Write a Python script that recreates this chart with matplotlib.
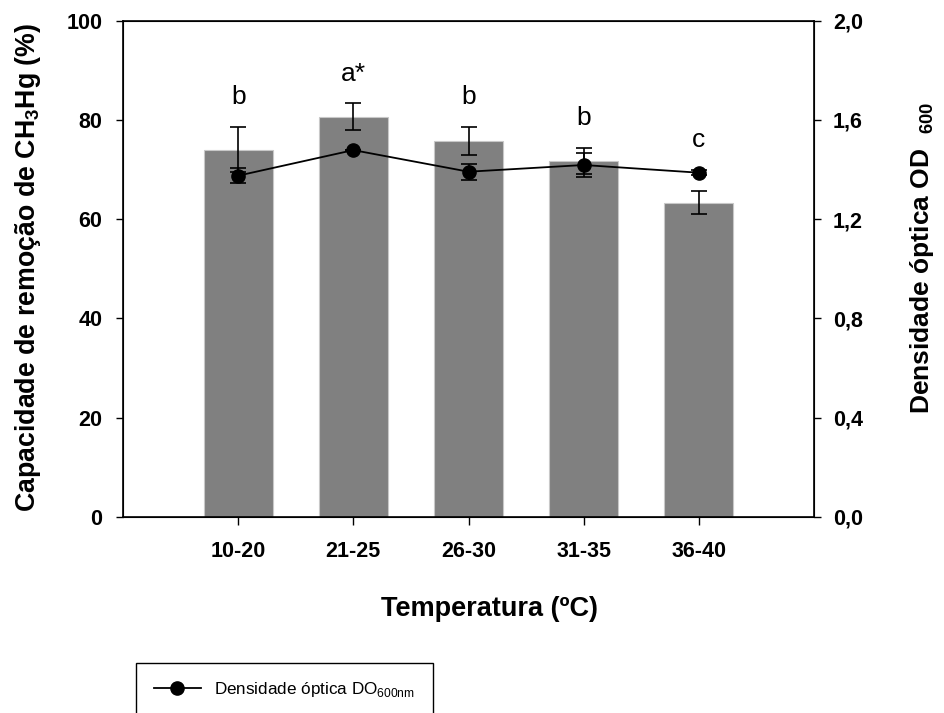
import matplotlib
matplotlib.use("Agg")
import matplotlib.pyplot as plt
import numpy as np

plt.rcParams['font.family'] = ['Liberation Sans', 'DejaVu Sans']
plt.rcParams['mathtext.fontset'] = 'custom'
plt.rcParams['mathtext.rm'] = 'Liberation Sans'
plt.rcParams['mathtext.bf'] = 'Liberation Sans:bold'

# dados
categorias = ['10-20', '21-25', '26-30', '31-35', '36-40']
remocao = [74.0, 80.6, 75.8, 71.7, 63.3]
remocao_erro = [4.6, 2.7, 2.8, 2.7, 2.3]
do600 = [1.375, 1.478, 1.391, 1.418, 1.387]
do600_erro = [0.03, 0.0, 0.033, 0.05, 0.01]
letras = ['b', 'a*', 'b', 'b', 'c']

x = np.arange(len(categorias))

fig = plt.figure(figsize=(9.44, 7.13), dpi=100)
ax = fig.add_axes([0.1303, 0.2749, 0.7320, 0.6963])
ax2 = ax.twinx()

# barras
ax.bar(x, remocao, width=0.6, color='#808080', edgecolor='#c8c8c8', linewidth=0.8, zorder=2)
ax.errorbar(x, remocao, yerr=remocao_erro, fmt='none', ecolor='black',
            elinewidth=1.2, capsize=5.5, capthick=1.2, zorder=3)

# densidade optica
ax2.errorbar(x, do600, yerr=do600_erro, fmt='none', ecolor='black',
             elinewidth=1.2, capsize=5.5, capthick=1.2)
ax2.plot(x, do600, '-o', color='black', markersize=9.5, linewidth=1.3,
         label=r'Densidade óptica DO$_{\mathregular{600nm}}$')

# letras
for i in range(len(x)):
    topo = max(remocao[i] + remocao_erro[i], (do600[i] + do600_erro[i]) * 50)
    ax.text(x[i], topo + 6, letras[i], ha='center', va='center', fontsize=19)

ax.set_xlim(-1, 5)
ax.set_ylim(0, 100)
ax2.set_ylim(0, 2.0)
ax.set_xticks(x)
ax.set_xticklabels(categorias, fontsize=15.5, fontweight='bold')
ax.set_yticks(np.arange(0, 101, 20))
ax.set_yticklabels([str(v) for v in range(0, 101, 20)], fontsize=15.5, fontweight='bold')
ax2.set_yticks(np.arange(0, 2.01, 0.4))
ax2.set_yticklabels(['0,0', '0,4', '0,8', '1,2', '1,6', '2,0'], fontsize=15.5, fontweight='bold')
ax.tick_params(axis='x', direction='out', length=6, width=1, pad=11)
ax.tick_params(axis='y', direction='out', length=5, width=1, pad=10)
ax2.tick_params(axis='y', direction='out', length=5, width=1, pad=8.5)

ax.set_xlabel('Temperatura (ºC)', fontsize=19.5, fontweight='bold')
ax.xaxis.set_label_coords(0.5297, -0.16)
ax.set_ylabel(r'Capacidade de remoção de CH$_\mathbf{3}$Hg (%)', fontsize=19.3,
              fontweight='bold')
ax.yaxis.set_label_coords(-0.1158, 0.503)
ax2.set_ylabel(r'Densidade óptica OD  $_{\mathbf{600}}$', fontsize=19,
               fontweight='bold')
ax2.yaxis.set_label_coords(1.136, 0.522)

for s in ax.spines.values():
    s.set_linewidth(1.2)
ax.set_zorder(ax2.get_zorder() - 1)
ax.patch.set_visible(False)

leg = fig.legend(loc='upper left', bbox_to_anchor=(136 / 944, 1 - 662.5 / 713),
                 borderaxespad=0, fancybox=False, edgecolor='black', framealpha=1,
                 fontsize=12.3, handlelength=2.75, borderpad=1.05, handletextpad=0.75)
leg.get_frame().set_linewidth(1.0)

plt.savefig('out.png', dpi=100)
